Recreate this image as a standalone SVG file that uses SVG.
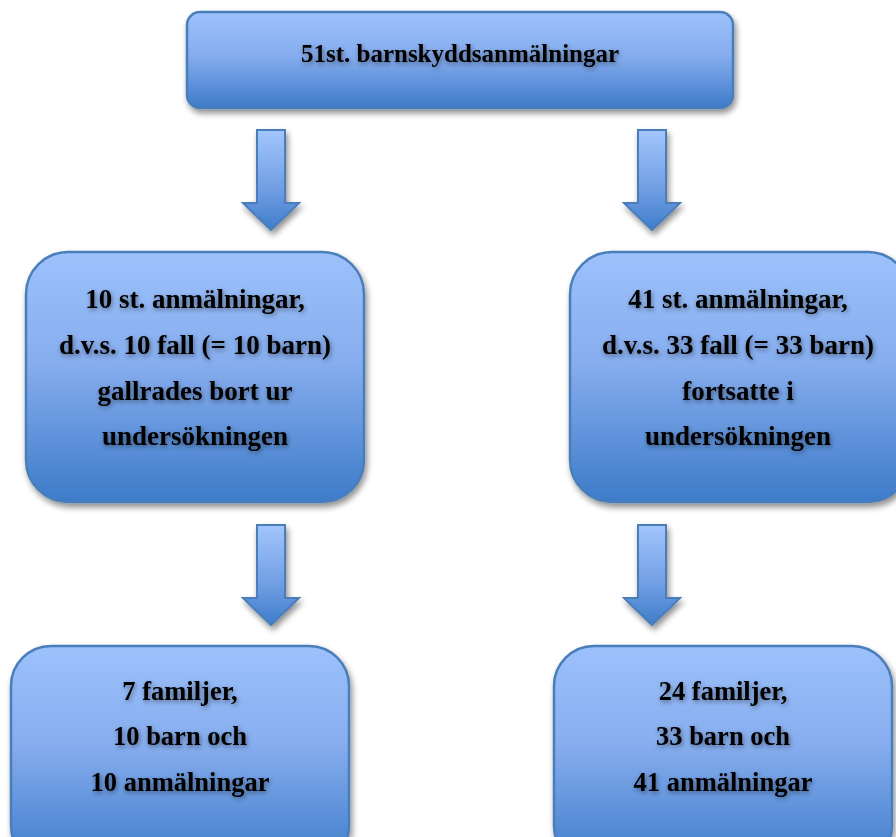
<svg xmlns="http://www.w3.org/2000/svg" width="896" height="837" viewBox="0 0 896 837">
<defs>
<linearGradient id="g" x1="0" y1="0" x2="0" y2="1">
<stop offset="0" stop-color="#9cc1fb"/>
<stop offset="0.45" stop-color="#86adee"/>
<stop offset="1" stop-color="#3d7bc9"/>
</linearGradient>
<linearGradient id="ga" x1="0" y1="0" x2="0" y2="1">
<stop offset="0" stop-color="#a3c6fc"/>
<stop offset="0.6" stop-color="#6f9de3"/>
<stop offset="1" stop-color="#3f7dca"/>
</linearGradient>
<filter id="sh" x="-10%" y="-10%" width="125%" height="130%">
<feGaussianBlur in="SourceAlpha" stdDeviation="3"/>
<feOffset dx="2" dy="4" result="b"/>
<feComponentTransfer><feFuncA type="linear" slope="0.45"/></feComponentTransfer>
<feMerge><feMergeNode/><feMergeNode in="SourceGraphic"/></feMerge>
</filter>
<filter id="ts" x="-10%" y="-40%" width="120%" height="180%">
<feGaussianBlur in="SourceAlpha" stdDeviation="2.5"/>
<feOffset dx="1" dy="2"/>
<feComponentTransfer><feFuncA type="linear" slope="0.45"/></feComponentTransfer>
<feMerge><feMergeNode/><feMergeNode in="SourceGraphic"/></feMerge>
</filter>
<path id="arr" d="M-14 0 H14 V73 H28 L0 100 L-28 73 H-14 Z"/>
</defs>
<style>
.box{fill:url(#g);stroke:#4a7ebb;stroke-width:2.5;filter:url(#sh)}
.arrow{fill:url(#ga);stroke:#4a7ebb;stroke-width:2;filter:url(#sh)}
text{font-family:"Liberation Serif","Times New Roman",serif;font-weight:bold;font-size:27px;fill:#000;text-anchor:middle;filter:url(#ts)}
.t{font-size:25px}
.b{font-size:26.5px}
</style>
<rect width="896" height="837" fill="#fff"/>
<g id="connectors">
<use href="#arr" class="arrow" transform="translate(271,130)"/>
<use href="#arr" class="arrow" transform="translate(652,130)"/>
<use href="#arr" class="arrow" transform="translate(271,525)"/>
<use href="#arr" class="arrow" transform="translate(652,525)"/>
</g>
<g id="top">
<rect class="box" x="187" y="12" width="546" height="96" rx="13"/>
<text class="t" x="460" y="62">51st. barnskyddsanmälningar</text>
</g>
<g id="midleft">
<rect class="box" x="26" y="252" width="338" height="250" rx="42"/>
<text x="195" y="308">10 st. anmälningar,</text>
<text x="195" y="354">d.v.s. 10 fall (= 10 barn)</text>
<text x="195" y="400">gallrades bort ur</text>
<text x="195" y="445">undersökningen</text>
</g>
<g id="midright">
<rect class="box" x="570" y="252" width="340" height="250" rx="42"/>
<text x="738" y="308">41 st. anmälningar,</text>
<text x="738" y="354">d.v.s. 33 fall (= 33 barn)</text>
<text x="738" y="400">fortsatte i</text>
<text x="738" y="445">undersökningen</text>
</g>
<g id="botleft">
<rect class="box" x="11" y="646" width="338" height="220" rx="40"/>
<text class="b" x="180" y="700">7 familjer,</text>
<text class="b" x="180" y="745">10 barn och</text>
<text class="b" x="180" y="791">10 anmälningar</text>
</g>
<g id="botright">
<rect class="box" x="554" y="646" width="338" height="220" rx="40"/>
<text class="b" x="723" y="700">24 familjer,</text>
<text class="b" x="723" y="745">33 barn och</text>
<text class="b" x="723" y="791">41 anmälningar</text>
</g>
</svg>
